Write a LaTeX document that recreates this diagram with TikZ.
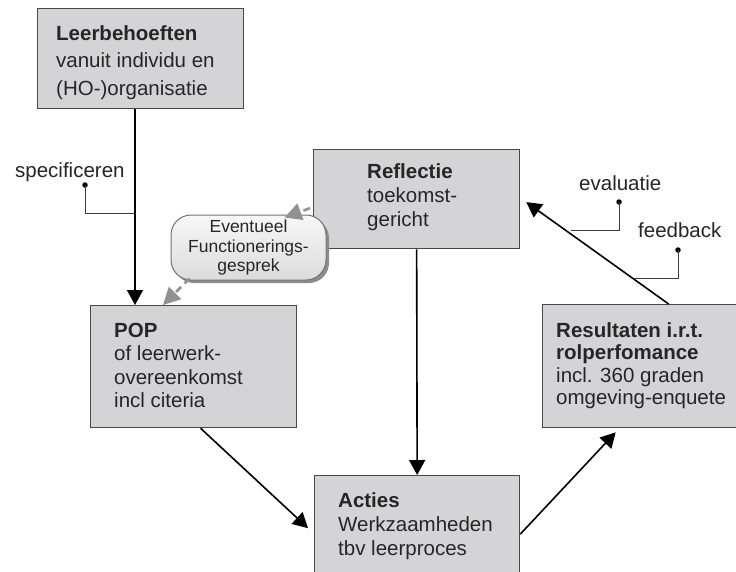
\documentclass[tikz,border=0pt]{standalone}
\usepackage{fontspec}
\setmainfont{Liberation Sans}
\usetikzlibrary{arrows.meta,shadows}
\definecolor{boxfill}{RGB}{212,212,214}
\definecolor{boxline}{RGB}{72,72,72}
\definecolor{dashgray}{RGB}{145,145,145}
\definecolor{callgray}{RGB}{60,60,60}
\newcommand{\bigsz}{\fontsize{20.5}{24}\selectfont}
\newcommand{\smallsz}{\fontsize{17.5}{19.5}\selectfont}
\tikzset{
  box/.style={draw=boxline, fill=boxfill, line width=1.3pt, inner sep=0pt, anchor=north west},
  % anchor = baseline of the last text line
  boxtext/.style={inner sep=0pt, anchor=base west, align=left, font=\bigsz, text=black!85},
  flow/.style={line width=1.6pt, -{Triangle[length=15pt,width=16pt]}},
  optflow/.style={draw=dashgray, line width=2.6pt, dash pattern=on 7pt off 5pt,
    -{Triangle[length=17pt,width=17pt,fill=dashgray]}},
  callout/.style={draw=callgray, line width=1pt},
  dot/.style={circle, fill=black, inner sep=0pt, minimum size=5.5pt},
  calltext/.style={inner sep=0pt, anchor=base west, font=\bigsz, text=black!85},
}
\begin{document}
\begin{tikzpicture}[x=1pt, y=-1pt]
\clip (0,0) rectangle (736,571);
\fill[white] (0,0) rectangle (736,571);

% process boxes
\node[box, minimum width=206pt, minimum height=100pt] (lb) at (37,8) {};
\node[box, minimum width=206pt, minimum height=99pt] (refl) at (313,149) {};
\node[box, minimum width=206pt, minimum height=122pt] (pop) at (90,305) {};
\node[box, minimum width=205pt, minimum height=105pt] (act) at (314,475) {};
\node[box, minimum width=210pt, minimum height=123pt] (res) at (542,304) {};

% box texts
\node[boxtext, font=\fontsize{20.5}{27.5}\selectfont] (lbt) at (56,95)
  {\textbf{Leerbehoeften}\\vanuit individu en\\(HO-)organisatie};
\node[boxtext] (reflt) at (367,226) {\textbf{Reflectie}\\toekomst-\\gericht};
\node[boxtext, font=\fontsize{20.5}{23.5}\selectfont] (popt) at (114,407.5)
  {\textbf{POP}\\of leerwerk-\\overeenkomst\\incl citeria};
\node[boxtext] (actt) at (338,555) {\textbf{Acties}\\Werkzaamheden\\tbv leerproces};
\node[boxtext, font=\fontsize{20.5}{22.5}\selectfont] (rest) at (556,404.5)
  {\textbf{Resultaten i.r.t.}\\\textbf{rolperfomance}\\incl. 360 graden\\omgeving-enquete};

% optional talk
\node[draw=black!55, line width=1pt, rounded corners=20pt,
      top color=gray!6, bottom color=gray!28,
      drop shadow={shadow xshift=3pt, shadow yshift=-3pt, fill=black!45, opacity=1},
      minimum width=155pt, minimum height=65pt, inner sep=0pt,
      align=center, font=\smallsz, text=black!85] (ev) at (248.5,247.5)
  {Eventueel\\Functionerings-\\gesprek};

% main flow
\coordinate (specx) at (135,0);
\draw[flow] (lb.south -| specx) -- (pop.north -| specx);
\draw[flow] (refl.south) -- (act.north);
\draw[flow] ([xshift=7pt]pop.south) -- ([xshift=-6pt]act.west);
\draw[flow] ([yshift=-6pt]act.east) -- ([xshift=-32pt,yshift=-4pt]res.south);
\draw[flow] ([xshift=21pt]res.north) -- ([xshift=6pt,yshift=-3pt]refl.east);

% optional flow via the talk
\draw[optflow] ([xshift=-3pt,yshift=-9pt]refl.west) -- ([xshift=-42pt,yshift=-3pt]ev.north east);
\draw[optflow] ([xshift=19pt,yshift=2pt]ev.south west) -- ([xshift=73pt]pop.north west);

% annotations
\node[calltext] (spec) at (15,177) {specificeren};
\node[dot] (specdot) at (85,185) {};
\coordinate (specend) at (135,213);
\draw[callout] (specdot.center) |- (specend);

\node[calltext] (eval) at (579,190) {evaluatie};
\node[dot] (evaldot) at (619,202) {};
\coordinate (evalend) at (571,230);
\draw[callout] (evaldot.center) |- (evalend);

\node[calltext] (fb) at (638,237) {feedback};
\node[dot] (fbdot) at (678,250) {};
\coordinate (fbend) at (634,278);
\draw[callout] (fbdot.center) |- (fbend);
\end{tikzpicture}
\end{document}
